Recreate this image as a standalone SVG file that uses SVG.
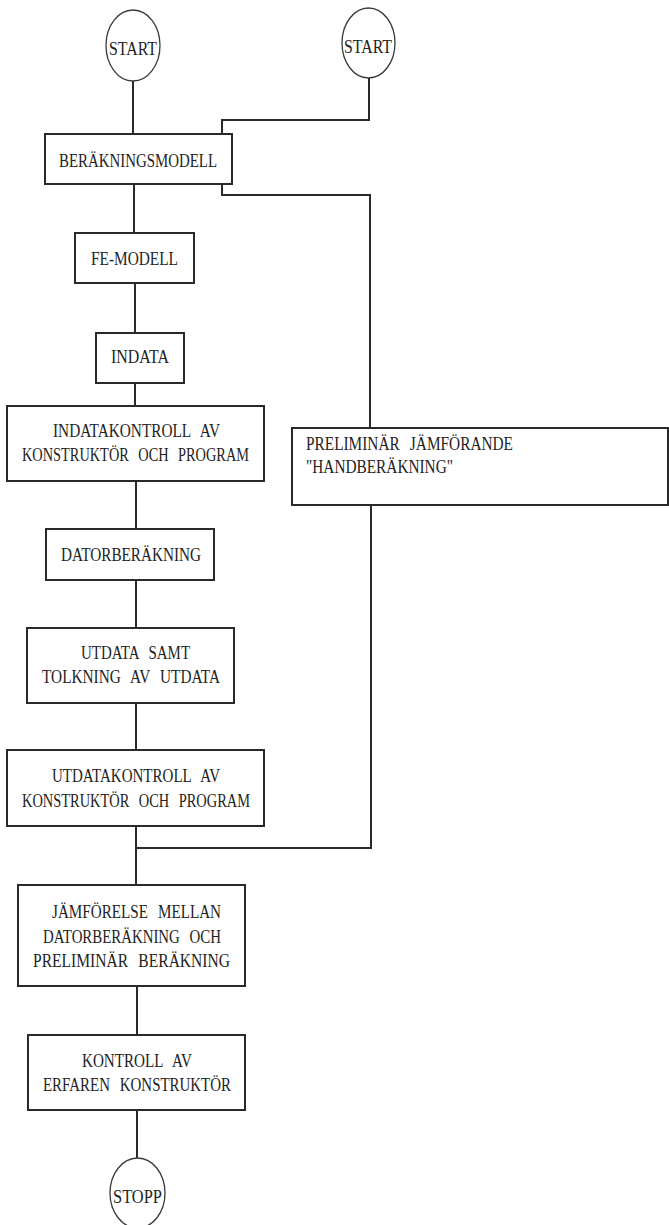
<svg xmlns="http://www.w3.org/2000/svg" width="669" height="1225" viewBox="0 0 669 1225">
  <style>
    .box { fill: #ffffff; stroke: #2a2a2a; stroke-width: 2; }
    .term { fill: #ffffff; stroke: #3a3a3a; stroke-width: 1.3; }
    .wire { fill: none; stroke: #2a2a2a; stroke-width: 2; }
    text { font-family: "Liberation Serif", "DejaVu Serif", serif; font-size: 19.5px; fill: #222222; word-spacing: 8px; }
  </style>
  <rect width="669" height="1225" fill="#ffffff"/>

  <!-- connectors -->
  <g id="connectors">
    <path class="wire" d="M133 81 V134"/>
    <path class="wire" d="M369 78 V120 H222 V134"/>
    <path class="wire" d="M222 184 V195 H370 V428"/>
    <path class="wire" d="M134 184 V233"/>
    <path class="wire" d="M135 283 V333"/>
    <path class="wire" d="M135 383 V406"/>
    <path class="wire" d="M136 481 V529"/>
    <path class="wire" d="M136 580 V628"/>
    <path class="wire" d="M136 703 V750"/>
    <path class="wire" d="M136 826 V885"/>
    <path class="wire" d="M371 505 V848 H136"/>
    <path class="wire" d="M137 986 V1035"/>
    <path class="wire" d="M137 1110 V1158"/>
  </g>

  <g id="start1">
    <ellipse class="term" cx="133" cy="45.5" rx="27" ry="35.5"/>
    <text x="109" y="55" textLength="48" lengthAdjust="spacingAndGlyphs">START</text>
  </g>
  <g id="start2">
    <ellipse class="term" cx="368.5" cy="43" rx="26.5" ry="35"/>
    <text x="344" y="53" textLength="48" lengthAdjust="spacingAndGlyphs">START</text>
  </g>

  <g id="berakningsmodell">
    <rect class="box" x="45" y="134" width="187" height="50"/>
    <text x="59" y="167" textLength="158" lengthAdjust="spacingAndGlyphs">BERÄKNINGSMODELL</text>
  </g>

  <g id="fe-modell">
    <rect class="box" x="75" y="233" width="119" height="50"/>
    <text x="91" y="265" textLength="87" lengthAdjust="spacingAndGlyphs">FE-MODELL</text>
  </g>

  <g id="indata">
    <rect class="box" x="96" y="333" width="88" height="50"/>
    <text x="111" y="363" textLength="58" lengthAdjust="spacingAndGlyphs">INDATA</text>
  </g>

  <g id="indatakontroll">
    <rect class="box" x="7" y="406" width="257" height="75"/>
    <text x="53" y="437" textLength="167" lengthAdjust="spacingAndGlyphs">INDATAKONTROLL AV</text>
    <text x="22" y="461" textLength="227" lengthAdjust="spacingAndGlyphs">KONSTRUKTÖR OCH PROGRAM</text>
  </g>

  <g id="handberakning">
    <rect class="box" x="292" y="428" width="376" height="77"/>
    <text x="306" y="450" textLength="207" lengthAdjust="spacingAndGlyphs">PRELIMINÄR JÄMFÖRANDE</text>
    <text x="306" y="473" textLength="147" lengthAdjust="spacingAndGlyphs">"HANDBERÄKNING"</text>
  </g>

  <g id="datorberakning">
    <rect class="box" x="46" y="529" width="168" height="51"/>
    <text x="61" y="561" textLength="140" lengthAdjust="spacingAndGlyphs">DATORBERÄKNING</text>
  </g>

  <g id="utdata">
    <rect class="box" x="27" y="628" width="207" height="75"/>
    <text x="81" y="659" textLength="109" lengthAdjust="spacingAndGlyphs">UTDATA SAMT</text>
    <text x="42" y="683" textLength="178" lengthAdjust="spacingAndGlyphs">TOLKNING AV UTDATA</text>
  </g>

  <g id="utdatakontroll">
    <rect class="box" x="7" y="750" width="257" height="76"/>
    <text x="52" y="782" textLength="168" lengthAdjust="spacingAndGlyphs">UTDATAKONTROLL AV</text>
    <text x="22" y="807" textLength="228" lengthAdjust="spacingAndGlyphs">KONSTRUKTÖR OCH PROGRAM</text>
  </g>

  <g id="jamforelse">
    <rect class="box" x="18" y="885" width="227" height="101"/>
    <text x="52" y="918" textLength="169" lengthAdjust="spacingAndGlyphs">JÄMFÖRELSE MELLAN</text>
    <text x="43" y="943" textLength="178" lengthAdjust="spacingAndGlyphs">DATORBERÄKNING OCH</text>
    <text x="33" y="967" textLength="197" lengthAdjust="spacingAndGlyphs">PRELIMINÄR BERÄKNING</text>
  </g>

  <g id="kontroll">
    <rect class="box" x="28" y="1035" width="217" height="75"/>
    <text x="82" y="1067" textLength="110" lengthAdjust="spacingAndGlyphs">KONTROLL AV</text>
    <text x="43" y="1091" textLength="188" lengthAdjust="spacingAndGlyphs">ERFAREN KONSTRUKTÖR</text>
  </g>

  <g id="stopp">
    <ellipse class="term" cx="137.5" cy="1193" rx="27.5" ry="35"/>
    <text x="113" y="1203" textLength="49" lengthAdjust="spacingAndGlyphs">STOPP</text>
  </g>
</svg>
